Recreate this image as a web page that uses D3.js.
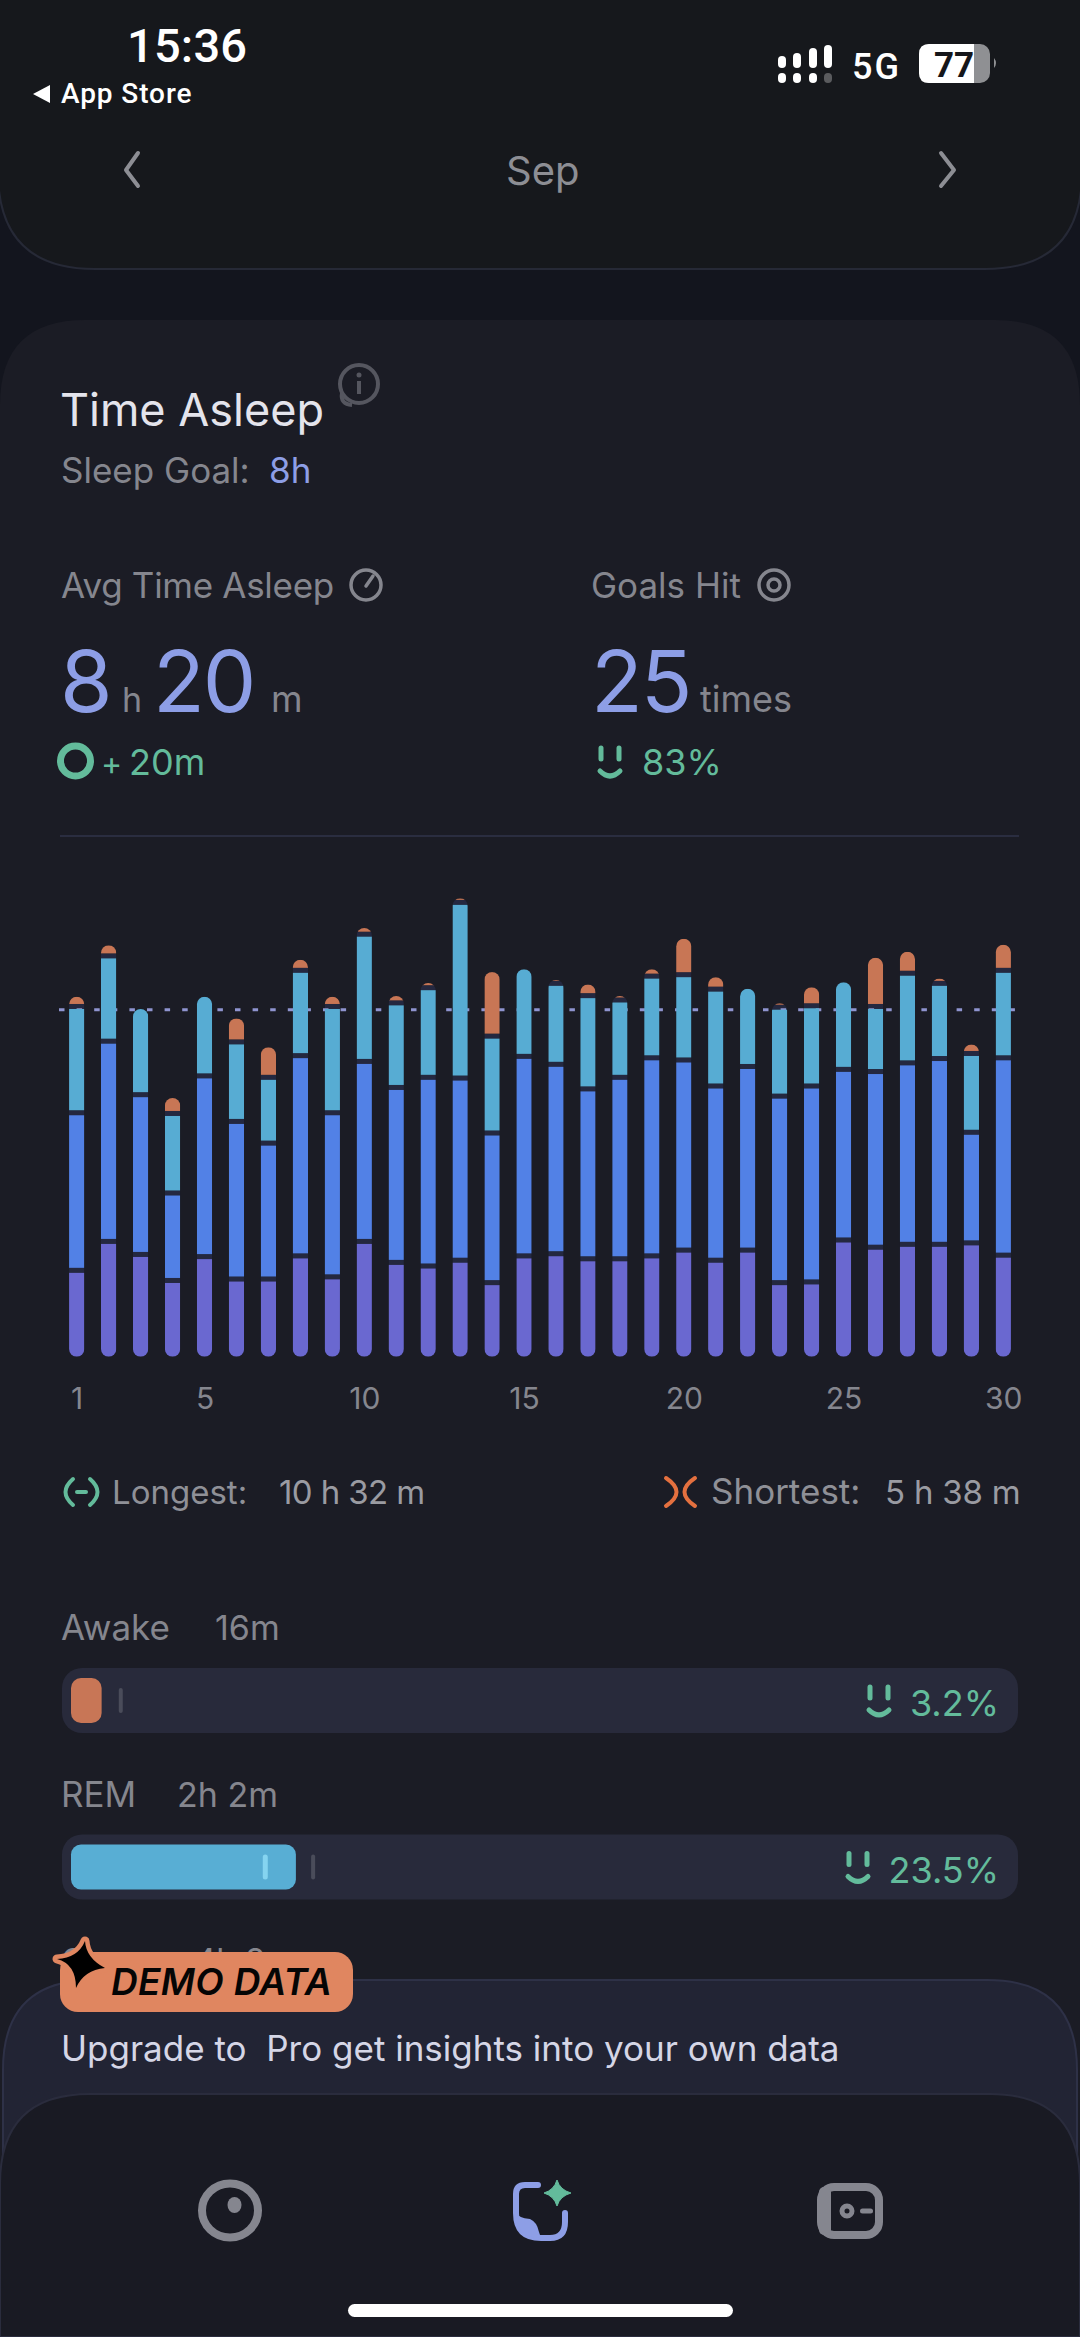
<!DOCTYPE html>
<html lang="en">
<head>
<meta charset="utf-8">
<style>
  html, body { margin: 0; padding: 0; background: #13151e; }
  svg { display: block; }
  text { font-family: Inter, "Noto Sans", sans-serif; }
</style>
</head>
<body>
<div id="my_dataviz"></div>

<!-- Load d3.js -->
<script src="https://d3js.org/d3.v7.min.js"></script>
<script>

// minutes per night
var days   = d3.range(1, 31);
var deep   = [116,156,138,102,135,104,104,136,107,156,127,122,130, 99,136,139,132,132,136,144,130,144, 99,100,158,148,152,152,154,137];
var core   = [218,277,221,121,250,218,188,277,227,249,242,261,252,207,276,262,235,251,274,263,241,254,258,271,236,243,251,257,153,273];
var rem    = [147,118,122,110,113,110, 91,118,147,176,117,124,243,134,124,112,129,107,113,118,134,111,123,111,124, 90,124,104,109,121];
var awake  = [ 17, 18,  0, 25,  0, 36, 45, 18, 17, 12, 13, 10,  9, 92,  0,  8, 19,  9, 13, 53, 20,  0,  9, 29,  0, 71, 33, 10, 16, 39];
var tickDays = [1, 5, 10, 15, 20, 25, 30];
var goalMinutes = 480;

// stage rows under the chart
var stageNames  = ["Awake", "REM"];
var stageTimes  = ["16m", "2h 2m"];
var stageShares = [3.2, 23.5];
var stageGoalMarks  = [5.2, 25.3];
var stageInnerMarks = [null, 20.3];
var stageColors = ["#c87656", "#58aed4"];

var keys = ["deep", "core", "rem", "awake"];
var segmentColors = {deep: "#6a68d0", core: "#5281e6", rem: "#57acd3", awake: "#c87655"};

var width = 1080, height = 2337;
var barWidth = 15.3, barGap = 5;

var textGrey = "#85868e", lavender = "#8d9ee6", teal = "#63bb9b";

var svg = d3.select("#my_dataviz")
  .append("svg")
    .attr("width", width)
    .attr("height", height);
var defs = svg.append("defs");

function label(txt, x, y, size, color, opts) {
  opts = opts || {};
  return svg.append("text")
    .attr("x", x).attr("y", y)
    .attr("font-size", size)
    .attr("fill", color)
    .attr("font-weight", opts.weight || 400)
    .attr("font-style", opts.italic ? "italic" : null)
    .attr("letter-spacing", opts.spacing || null)
    .attr("text-anchor", opts.anchor || "start")
    .style("font-family", opts.family || null)
    .text(txt);
}

function stroked(d, color, w) {
  return svg.append("path").attr("d", d)
    .attr("fill", "none").attr("stroke", color)
    .attr("stroke-width", w).attr("stroke-linecap", "round");
}

function smile(x, y) {
  stroked("M" + (x + 4) + " " + (y + 4) + "V" + (y + 15), teal, 5);
  stroked("M" + (x + 22) + " " + (y + 4) + "V" + (y + 15), teal, 5);
  stroked("M" + (x + 3) + " " + (y + 27) + "Q" + (x + 13) + " " + (y + 37) + " " + (x + 23) + " " + (y + 27), teal, 5);
}

// top month panel
svg.append("path")
  .attr("d", "M-2 -4H1082V172Q1082 269 985 269H95Q-2 269 -2 172Z")
  .attr("fill", "#16181c").attr("stroke", "#262936").attr("stroke-width", 2);

// status bar
label("15:36", 127, 62, 47, "#ffffff", {weight: 500, family: "Roboto", spacing: "0.2px"});
svg.append("path").attr("d", "M50 85V103L33 94Z").attr("fill", "#ffffff");
label("App Store", 61, 103, 28, "#ffffff", {weight: 500, family: "Roboto", spacing: "0.9px"});

var signalTops = [56, 53, 48, 45], signalX = [778, 793, 809, 824];
signalX.forEach(function(x, i) {
  svg.append("rect").attr("x", x).attr("y", signalTops[i]).attr("width", 8).attr("height", 68 - signalTops[i]).attr("rx", 4).attr("fill", "#ffffff");
  svg.append("rect").attr("x", x).attr("y", 73).attr("width", 8).attr("height", 10).attr("rx", 4).attr("fill", i == 3 ? "#5a5b5e" : "#ffffff");
});
label("5G", 852, 79, 36, "#ffffff", {weight: 500, family: "Roboto", spacing: "2px"});
svg.append("rect").attr("x", 919).attr("y", 44).attr("width", 71).attr("height", 39).attr("rx", 10).attr("fill", "#8f9093");
svg.append("path").attr("d", "M929 44H974V83H929Q919 83 919 73V54Q919 44 929 44Z").attr("fill", "#ffffff");
svg.append("path").attr("d", "M994 58Q998 63 994 68Z").attr("fill", "#8f9093");
label("77", 934, 77, 35, "#15161a", {weight: 700, family: "Roboto"});

// month selector
stroked("M138 153L126 170L138 186", "#8d8e94", 4).attr("stroke-linejoin", "round");
stroked("M941 153L954 170L941 186", "#8d8e94", 4).attr("stroke-linejoin", "round");
label("Sep", 506, 185, 40, "#8d8e94");

// main card
svg.append("path")
  .attr("d", "M0 405Q0 320 85 320H995Q1080 320 1080 405V2337H0Z")
  .attr("fill", "#1b1c25");

// title block
label("Time Asleep", 60, 426, 45, "#e4e4ec");
svg.append("circle").attr("cx", 359).attr("cy", 384).attr("r", 19).attr("fill", "none").attr("stroke", "#55565f").attr("stroke-width", 4);
svg.append("path").attr("d", "M342 393Q340 404 352 405").attr("fill", "none").attr("stroke", "#55565f").attr("stroke-width", 4);
svg.append("rect").attr("x", 357).attr("y", 381).attr("width", 4).attr("height", 13).attr("fill", "#55565f");
svg.append("circle").attr("cx", 359).attr("cy", 375).attr("r", 2.5).attr("fill", "#55565f");
label("Sleep Goal:", 61, 483, 35, textGrey);
label("8h", 269, 483, 35, lavender);

// headline numbers
label("Avg Time Asleep", 61, 598, 35, textGrey, {spacing: "-0.3px"});
svg.append("circle").attr("cx", 366).attr("cy", 585).attr("r", 15).attr("fill", "none").attr("stroke", textGrey).attr("stroke-width", 3.5);
stroked("M366 586L373 576", textGrey, 3.5);
label("Goals Hit", 591, 598, 35, textGrey);
svg.append("circle").attr("cx", 774).attr("cy", 585).attr("r", 15).attr("fill", "none").attr("stroke", textGrey).attr("stroke-width", 3.5);
svg.append("circle").attr("cx", 774).attr("cy", 585).attr("r", 6).attr("fill", "none").attr("stroke", textGrey).attr("stroke-width", 3.5);

label("8", 60, 712, 85, lavender, {spacing: "-1px"});
label("h", 122, 712, 34, textGrey);
label("20", 153, 712, 85, lavender, {spacing: "-2px"});
label("m", 271, 712, 36, textGrey);
label("25", 591, 712, 85, lavender, {spacing: "-2px"});
label("times", 700, 712, 36, textGrey);

svg.append("circle").attr("cx", 75.5).attr("cy", 761).attr("r", 15).attr("fill", "none").attr("stroke", teal).attr("stroke-width", 7);
label("+", 101, 775, 32, teal);
label("20m", 129, 775, 36, teal);
smile(597, 744);
label("83%", 642, 775, 36, teal);

svg.append("line").attr("x1", 60).attr("x2", 1019).attr("y1", 836).attr("y2", 836).attr("stroke", "#2a2d40").attr("stroke-width", 2);

// chart
var rows = days.map(function(d, i) {
  return {day: d, deep: deep[i], core: core[i], rem: rem[i], awake: awake[i]};
});
var series = d3.stack().keys(keys)(rows);

var x = d3.scalePoint().domain(days).range([76.7, 1003.3]);
var y = d3.scaleLinear().domain([0, goalMinutes]).range([1356.7, 1009.7]);

rows.forEach(function(d, i) {
  var total = d.deep + d.core + d.rem + d.awake;
  defs.append("clipPath").attr("id", "bar" + i)
    .append("rect")
      .attr("x", x(d.day) - barWidth / 2)
      .attr("y", y(total))
      .attr("width", barWidth)
      .attr("height", y(0) - y(total))
      .attr("rx", barWidth / 2);
});

// the dark separators sit under the goal line, the coloured parts over it
var gapsG = svg.append("g"), goalG = svg.append("g"), barsG = svg.append("g");

series.forEach(function(s) {
  var isFirst = s.key == "deep";
  s.forEach(function(p, i) {
    if (p[1] <= p[0]) return;
    var cx = x(p.data.day);
    var clip = "url(#bar" + i + ")";
    if (!isFirst) {
      gapsG.append("rect")
        .attr("clip-path", clip)
        .attr("x", cx - barWidth / 2).attr("width", barWidth)
        .attr("y", y(p[0]) - barGap).attr("height", barGap)
        .attr("fill", "#242840");
    }
    var bottom = isFirst ? y(p[0]) : y(p[0]) - barGap;
    if (bottom <= y(p[1])) return;
    barsG.append("rect")
      .attr("clip-path", clip)
      .attr("x", cx - barWidth / 2).attr("width", barWidth)
      .attr("y", y(p[1])).attr("height", bottom - y(p[1]))
      .attr("fill", segmentColors[s.key]);
  });
});

goalG.append("line")
  .attr("x1", 59).attr("x2", 1020)
  .attr("y1", y(goalMinutes)).attr("y2", y(goalMinutes))
  .attr("stroke", "#8f94d0").attr("stroke-width", 3)
  .attr("stroke-dasharray", "5.5 12.1");

var xAxis = svg.append("g")
  .attr("transform", "translate(0,1382)")
  .call(d3.axisBottom(x).tickValues(tickDays).tickSize(0).tickPadding(0));
xAxis.select(".domain").remove();
xAxis.selectAll("text")
  .attr("font-size", 30).attr("fill", textGrey)
  .style("font-family", "Inter")
  .attr("dy", "27px");

// longest / shortest
stroked("M73 1479Q58 1492 73 1505", teal, 4);
stroked("M90 1479Q105 1492 90 1505", teal, 4);
stroked("M77 1492H86", teal, 4);
label("Longest:", 112, 1504, 33, "#8f9097");
label("10 h 32 m", 279, 1504, 33, "#9a9ba2", {spacing: "-0.6px"});
stroked("M666 1478Q687 1492 666 1506", "#e4703f", 4);
stroked("M695 1478Q674 1492 695 1506", "#e4703f", 4);
label("Shortest:", 711, 1504, 35, "#8f9097");
label("5 h 38 m", 885, 1504, 33, "#9a9ba2", {spacing: "-0.2px"});

// sleep stage rows
var stageX = d3.scaleLinear().domain([0, 100]).range([71, 1028]);
var stageRowY = [1668, 1834.5];

stageNames.forEach(function(name, i) {
  var top = stageRowY[i];
  label(name, 61, top - 28, 35, textGrey);
  label(stageTimes[i], i == 0 ? 215 : 177, top - 28, 34, textGrey);
  svg.append("rect").attr("x", 62).attr("y", top).attr("width", 956).attr("height", 65).attr("rx", 20).attr("fill", "#282a3b");
  svg.append("rect")
    .attr("x", stageX(0)).attr("y", top + 10)
    .attr("width", stageX(stageShares[i]) - stageX(0)).attr("height", 45)
    .attr("rx", 10).attr("fill", stageColors[i]);
  svg.append("rect")
    .attr("x", stageX(stageGoalMarks[i]) - 2).attr("y", top + 20)
    .attr("width", 4).attr("height", 25).attr("rx", 2).attr("fill", "#4a4c5a");
  if (stageInnerMarks[i] != null) {
    svg.append("rect")
      .attr("x", stageX(stageInnerMarks[i]) - 2.5).attr("y", top + 20)
      .attr("width", 5).attr("height", 25).attr("rx", 2.5).attr("fill", "#85d4f0");
  }
  label(stageShares[i] + "%", 999, top + 48, 36, teal, {anchor: "end"});
  smile(i == 0 ? 866 : 845, top + 15);
});

// third row, mostly hidden under the upgrade panel
label("Core", 61, 1972, 33, textGrey);
label("4h 8m", 195, 1972, 33, textGrey);

// upgrade panel
svg.append("path")
  .attr("d", "M3 2337V2070Q3 1980 93 1980H987Q1077 1980 1077 2070V2337Z")
  .attr("fill", "#222434").attr("stroke", "#2e3147").attr("stroke-width", 2);
label("Upgrade to  Pro get insights into your own data", 61, 2061, 35, "#d5d6e6").style("white-space", "pre");

// demo badge
svg.append("rect").attr("x", 60).attr("y", 1952).attr("width", 293).attr("height", 60).attr("rx", 18).attr("fill", "#e08660");
svg.append("path")
  .attr("d", "M85 1941Q86 1958 105 1968Q84 1970 76 1988Q76 1964 57 1959Q78 1958 85 1941Z")
  .attr("fill", "#000000").attr("stroke", "#e08660").attr("stroke-width", 9).attr("stroke-linejoin", "round")
  .style("paint-order", "stroke");
label("DEMO DATA", 111, 1995, 37, "#050505", {weight: 600, italic: true, spacing: "0.3px"});

// nav panel
svg.append("path")
  .attr("d", "M0 2337V2184Q0 2094 90 2094H990Q1080 2094 1080 2184V2337Z")
  .attr("fill", "#191a23").attr("stroke", "#2a2c3d").attr("stroke-width", 2);

// nav icons
var navGrey = "#85868f";
svg.append("ellipse").attr("cx", 230).attr("cy", 2210.5).attr("rx", 28).attr("ry", 27).attr("fill", "none").attr("stroke", navGrey).attr("stroke-width", 8);
svg.append("ellipse").attr("cx", 234.5).attr("cy", 2205).attr("rx", 7).attr("ry", 8).attr("fill", navGrey);

svg.append("path")
  .attr("d", "M538 2185H525Q516 2185 516 2194V2213Q516 2238 541 2238H550Q565 2238 565 2222V2213")
  .attr("fill", "none").attr("stroke", lavender).attr("stroke-width", 6).attr("stroke-linecap", "round");
svg.append("path")
  .attr("d", "M516 2212Q518 2218 530 2219Q537 2222 539 2232L541 2238Q518 2238 514 2214Z")
  .attr("fill", lavender);
svg.append("path")
  .attr("d", "M557 2180Q560 2190 571 2193Q560 2196 557 2206Q554 2196 544 2193Q554 2190 557 2180Z")
  .attr("fill", teal).attr("stroke", teal).attr("stroke-width", 1);

svg.append("rect").attr("x", 821).attr("y", 2187).attr("width", 58).attr("height", 48).attr("rx", 13).attr("fill", "none").attr("stroke", navGrey).attr("stroke-width", 8);
svg.append("rect").attr("x", 819).attr("y", 2187).attr("width", 12).attr("height", 48).attr("rx", 5).attr("fill", navGrey);
svg.append("circle").attr("cx", 847).attr("cy", 2211).attr("r", 5).attr("fill", "none").attr("stroke", navGrey).attr("stroke-width", 5);
svg.append("rect").attr("x", 860).attr("y", 2208.5).attr("width", 13).attr("height", 5).attr("rx", 2.5).attr("fill", navGrey);

// home indicator
svg.append("rect").attr("x", 348).attr("y", 2304).attr("width", 385).attr("height", 13).attr("rx", 6.5).attr("fill", "#ffffff");

</script>
</body>
</html>
